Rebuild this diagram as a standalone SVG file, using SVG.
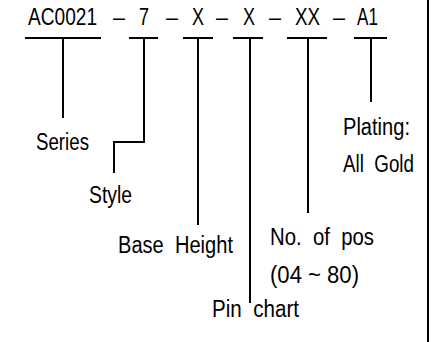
<svg xmlns="http://www.w3.org/2000/svg" width="436" height="342" viewBox="0 0 436 342" xml:space="preserve">
<style>
text{font-family:"Liberation Sans",Arial,sans-serif;font-size:23px;fill:#000;white-space:pre}
line,polyline{stroke:#000;stroke-width:2;fill:none}
</style>
<rect width="436" height="342" fill="#fff"/>
<g id="code">
<text x="28" y="25" textLength="69" lengthAdjust="spacingAndGlyphs">AC0021</text>
<text x="113" y="25" textLength="12" lengthAdjust="spacingAndGlyphs">–</text>
<text x="139" y="25" textLength="10" lengthAdjust="spacingAndGlyphs">7</text>
<text x="166" y="25" textLength="12" lengthAdjust="spacingAndGlyphs">–</text>
<text x="192" y="25" textLength="12" lengthAdjust="spacingAndGlyphs">X</text>
<text x="216" y="25" textLength="12" lengthAdjust="spacingAndGlyphs">–</text>
<text x="243" y="25" textLength="12" lengthAdjust="spacingAndGlyphs">X</text>
<text x="269" y="25" textLength="12" lengthAdjust="spacingAndGlyphs">–</text>
<text x="295" y="25" textLength="25" lengthAdjust="spacingAndGlyphs">XX</text>
<text x="333" y="25" textLength="12" lengthAdjust="spacingAndGlyphs">–</text>
<text x="357" y="25" textLength="21" lengthAdjust="spacingAndGlyphs">A1</text>
</g>
<g id="connectors">
<line x1="25" y1="38" x2="101" y2="38"/>
<line x1="63" y1="38" x2="63" y2="118"/>
<line x1="129" y1="38" x2="158" y2="38"/>
<polyline points="144,38 144,142 114,142 114,173"/>
<line x1="183" y1="38" x2="213" y2="38"/>
<line x1="198" y1="38" x2="198" y2="225"/>
<line x1="233" y1="38" x2="263" y2="38"/>
<line x1="250" y1="38" x2="250" y2="303"/>
<line x1="287" y1="38" x2="327" y2="38"/>
<line x1="308" y1="38" x2="308" y2="213"/>
<line x1="354" y1="38" x2="387" y2="38"/>
<line x1="371" y1="38" x2="371" y2="102"/>
<line x1="428" y1="0" x2="428" y2="342"/>
</g>
<g id="series"><text x="36" y="150" textLength="53" lengthAdjust="spacingAndGlyphs">Series</text></g>
<g id="style"><text x="89" y="203" textLength="43" lengthAdjust="spacingAndGlyphs">Style</text></g>
<g id="base-height"><text x="118" y="253" textLength="115" lengthAdjust="spacingAndGlyphs">Base  Height</text></g>
<g id="pin-chart"><text x="212" y="317" textLength="87" lengthAdjust="spacingAndGlyphs">Pin  chart</text></g>
<g id="no-of-pos">
<text x="270" y="245" textLength="104" lengthAdjust="spacingAndGlyphs">No.  of  pos</text>
<text x="270" y="283" textLength="89" lengthAdjust="spacingAndGlyphs">(04 ~ 80)</text>
</g>
<g id="plating">
<text x="343" y="135" textLength="67" lengthAdjust="spacingAndGlyphs">Plating:</text>
<text x="343" y="172" textLength="71" lengthAdjust="spacingAndGlyphs">All  Gold</text>
</g>
</svg>
